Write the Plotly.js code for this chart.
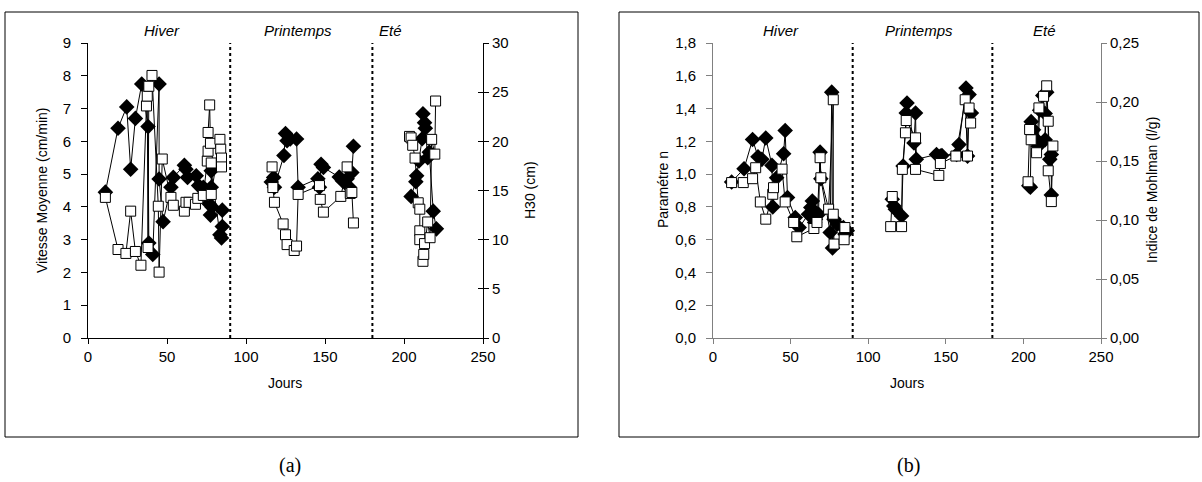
<!DOCTYPE html>
<html><head><meta charset="utf-8">
<script src="https://cdn.plot.ly/plotly-3.0.1.min.js"></script>
<style>html,body{margin:0;padding:0;background:#fff}#chart{width:1202px;height:482px}</style>
</head><body><div id="chart"></div>
<script>
// Panel (a) - filled diamonds: Vitesse Moyenne (cm/min), left axis. null = season break
const daysA_vit = [11,19,24.5,27,30,34,38,38.5,41,45,45,47.5,52.5,54,61,62,63,68.5,70,73,76.5,77.5,78.5,78,78,83.5,84.5,85,85,
  null,116,117.5,118,124,125,126,128,132,133,145.5,146.5,147.5,149,159,161,164,165.5,167,168,
  null,204.5,207.5,208,209.5,211.5,212,213,213.5,215,216,218.5,220.5];
const vitesse = [4.45,6.4,7.05,5.15,6.7,7.75,6.45,2.9,2.55,7.75,4.85,3.55,4.6,4.9,5.27,5.15,4.9,4.95,4.65,4.6,4.1,3.75,4.0,4.6,5.1,3.15,3.05,3.4,3.9,
  null,4.76,4.9,4.6,5.57,6.24,6.02,6.07,6.07,4.6,4.86,4.6,5.3,5.2,4.91,4.8,4.86,4.6,5.05,5.85,
  null,4.32,4.77,4.95,5.4,6.08,6.84,6.57,6.4,5.5,5.67,3.87,3.33];
// Panel (a) - open squares: H30 (cm), right axis
const daysA_h30 = [11,19,24,27,30,33.5,37,37.5,38,38.5,40.5,44.5,45,47,52.5,54,61,62,64,68,69.5,73,75.5,76,76,77,77.5,78,78,83.5,84,84.5,84.5,
  null,116.5,117,118,123.5,125,126,130.5,132,133,146.5,147,149,160,164,166,167,168,
  null,203.5,204.5,205.5,207,209,210,210,210,212,212.5,213,215,216.5,217.5,219.5,220];
const h30 = [14.3,9.0,8.6,12.9,8.8,7.4,23.6,24.6,9.2,25.6,26.7,13.4,6.7,18.2,14.3,13.5,12.9,13.8,13.8,13.6,14.2,14.5,18.0,19.0,20.9,23.7,19.8,17.8,14.6,20.2,19.2,18.3,17.4,
  null,17.4,15.3,13.8,11.6,10.5,9.5,8.9,9.35,14.6,15.5,14.1,12.8,14.4,17.4,14.7,14.8,11.7,
  null,20.5,20.35,19.6,18.3,13.75,13.1,10.9,10.0,7.8,8.5,9.6,11.8,10.2,20.2,18.7,24.1];
// Panel (b) - filled diamonds: Paramètre n, left axis
const daysB_n = [12,20,25.5,29,31.5,34,38,38.5,41,45.5,46.5,48,53,55.5,61.5,63,64,65.5,66,68,69,69.5,75.5,76.5,77,78,80,84,85,86.5,
  null,115.5,116.5,117.5,121.5,122.5,124.5,125,129.5,130.5,131,144,146.5,147.5,157,158.5,163,164,165,166.5,
  null,203.5,204.5,205,206.5,208.5,209.5,210.5,212.5,214,214,215,217,218,218];
const paramN = [0.952,1.033,1.211,1.106,1.09,1.22,1.053,0.8,0.978,1.124,1.266,0.857,0.735,0.674,0.755,0.796,0.836,0.705,0.725,0.755,1.134,0.972,0.644,1.5,0.549,0.725,0.695,0.674,0.634,0.654,
  null,0.847,0.806,0.786,0.745,1.049,1.373,1.434,1.19,1.373,1.09,1.12,1.11,1.114,1.12,1.18,1.525,1.11,1.485,1.373,
  null,0.929,0.92,1.32,1.27,1.21,1.17,1.39,1.48,1.37,1.21,1.5,1.09,1.12,0.873];
// Panel (b) - open squares: Indice de Mohlman (l/g), right axis
const daysB_im = [12,19.5,25.5,27.5,30.5,34,38.5,39,44.5,46.5,52,54,65,67,69,69.5,74.5,77.5,77.5,78,84.5,85,
  null,114.5,115.5,121.5,122,124,124.5,130.5,130.5,145.5,146.5,156.5,162.5,164,165,166,
  null,203,204,205,208.5,210,213,215,216,216,218,219];
const mohlman = [0.1317,0.1317,0.135,0.1443,0.1153,0.1007,0.1218,0.1274,0.1431,0.1153,0.0979,0.0858,0.0928,0.0979,0.1528,0.1358,0.1092,0.2019,0.1049,0.0796,0.0833,0.0936,
  null,0.0944,0.1199,0.0944,0.1429,0.1739,0.1843,0.1696,0.1429,0.1378,0.1479,0.1542,0.2019,0.1542,0.1949,0.1822,
  null,0.1324,0.1767,0.168,0.157,0.195,0.2048,0.2137,0.1837,0.1417,0.1156,0.1627];

const seasons = ['Hiver','Printemps','Eté'];
const seasonBreaks = [90,180];

const W = 1202, H = 482;
const px = v => v / W, py = v => 1 - v / H;
const FONT = 'Liberation Sans, Arial, sans-serif';

const sq = (x, y, xa, ya) => ({x, y, xaxis: xa, yaxis: ya, type: 'scatter', mode: 'lines+markers',
  connectgaps: false, line: {color: '#000', width: 1},
  marker: {symbol: 'square', size: 10, color: '#fff', line: {color: '#000', width: 1}}, hoverinfo: 'skip'});
const dm = (x, y, xa, ya) => ({x, y, xaxis: xa, yaxis: ya, type: 'scatter', mode: 'lines+markers',
  connectgaps: false, line: {color: '#000', width: 1},
  marker: {symbol: 'diamond', size: 12, color: '#000', line: {color: '#000', width: 0}}, hoverinfo: 'skip'});

const data = [
  sq(daysA_h30, h30, 'x', 'y2'),
  dm(daysA_vit, vitesse, 'x', 'y'),
  sq(daysB_im, mohlman, 'x2', 'y4'),
  dm(daysB_n, paramN, 'x2', 'y3')
];

const tf = {family: FONT, size: 15, color: '#000'};
const ax = (col, extra) => Object.assign({showgrid: false, zeroline: false, showline: true, linecolor: col, linewidth: 1,
  ticks: 'outside', ticklen: 5, tickcolor: col, tickfont: tf, fixedrange: true}, extra);
const inTicks = (col, extra) => Object.assign({showgrid: false, zeroline: false, showline: false, showticklabels: false,
  ticks: 'inside', ticklen: 5, tickcolor: col, fixedrange: true}, extra);

const yDom = [py(338), py(43)];
const layout = {
  width: W, height: H, margin: {l: 0, r: 0, t: 0, b: 0}, showlegend: false,
  paper_bgcolor: '#fff', plot_bgcolor: 'rgba(0,0,0,0)', separators: ', ',
  font: {family: FONT, color: '#000'},
  xaxis: ax('#000', {domain: [px(88), px(483)], anchor: 'y', range: [0, 250], dtick: 50, tick0: 0}),
  yaxis: ax('#000', {domain: yDom, anchor: 'x', range: [0, 9], dtick: 1, ticklen: 6, ticklabelstandoff: 7}),
  yaxis2: ax('#000', {overlaying: 'y', side: 'right', anchor: 'x', range: [0, 30], dtick: 5}),
  yaxis5: inTicks('#000', {overlaying: 'y', side: 'right', anchor: 'x', range: [0, 30], dtick: 5}),
  xaxis2: ax('#808080', {domain: [px(713), px(1101)], anchor: 'y3', range: [0, 250], dtick: 50, tick0: 0}),
  yaxis3: ax('#808080', {domain: yDom, anchor: 'x2', range: [0, 1.8], dtick: 0.2, tickformat: '.1f', ticklen: 6, ticklabelstandoff: 7}),
  yaxis4: ax('#808080', {overlaying: 'y3', side: 'right', anchor: 'x2', range: [0, 0.25], dtick: 0.05, tickformat: '.2f'}),
  yaxis6: inTicks('#808080', {overlaying: 'y3', side: 'right', anchor: 'x2', range: [0, 0.25], dtick: 0.05}),
  shapes: [
    {type: 'rect', xref: 'paper', yref: 'paper', x0: px(5), x1: px(578), y0: py(437), y1: py(12), line: {color: '#000', width: 1}},
    {type: 'rect', xref: 'paper', yref: 'paper', x0: px(619), x1: px(1199), y0: py(437), y1: py(12), line: {color: '#000', width: 1}},
    ...seasonBreaks.map(d => ({type: 'line', xref: 'x', yref: 'y', x0: d, x1: d, y0: 0, y1: 9, line: {color: '#000', width: 2, dash: 'dot'}})),
    ...seasonBreaks.map(d => ({type: 'line', xref: 'x2', yref: 'y3', x0: d, x1: d, y0: 0, y1: 1.8, line: {color: '#000', width: 2, dash: 'dot'}}))
  ],
  annotations: []
};
// empty traces so the tick-only overlay axes (crossing ticks on the right axes) get drawn
data.push({x: [null], y: [null], xaxis: 'x', yaxis: 'y5', type: 'scatter', hoverinfo: 'skip'});
data.push({x: [null], y: [null], xaxis: 'x2', yaxis: 'y6', type: 'scatter', hoverinfo: 'skip'});

const ann = (text, x, y, opts) => Object.assign({text, x: px(x), y: py(y), xref: 'paper', yref: 'paper', showarrow: false,
  xanchor: 'center', yanchor: 'middle', font: {family: FONT, size: 14, color: '#000'}}, opts || {});
const seasonX_a = [162, 298, 390], seasonX_b = [781, 919, 1044];
seasons.forEach((s, i) => {
  layout.annotations.push(ann('<i>' + s + '</i>', seasonX_a[i], 30, {font: {family: FONT, size: 15, color: '#000'}}));
  layout.annotations.push(ann('<i>' + s + '</i>', seasonX_b[i], 30, {font: {family: FONT, size: 15, color: '#000'}}));
});
layout.annotations.push(ann('Vitesse Moyenne (cm/min)', 42, 190, {textangle: -90}));
layout.annotations.push(ann('H30 (cm)', 530, 190, {textangle: -90}));
layout.annotations.push(ann('Jours', 285, 383));
layout.annotations.push(ann('Paramétre n', 663, 190, {textangle: -90}));
layout.annotations.push(ann('Indice de Mohlman (l/g)', 1152, 190, {textangle: -90}));
layout.annotations.push(ann('Jours', 907, 383));
layout.annotations.push(ann('(a)', 290, 465, {font: {family: 'Liberation Serif, Times New Roman, serif', size: 20, color: '#000'}}));
layout.annotations.push(ann('(b)', 908, 465, {font: {family: 'Liberation Serif, Times New Roman, serif', size: 20, color: '#000'}}));

Plotly.newPlot('chart', data, layout, {staticPlot: true, displayModeBar: false});
</script></body></html>
